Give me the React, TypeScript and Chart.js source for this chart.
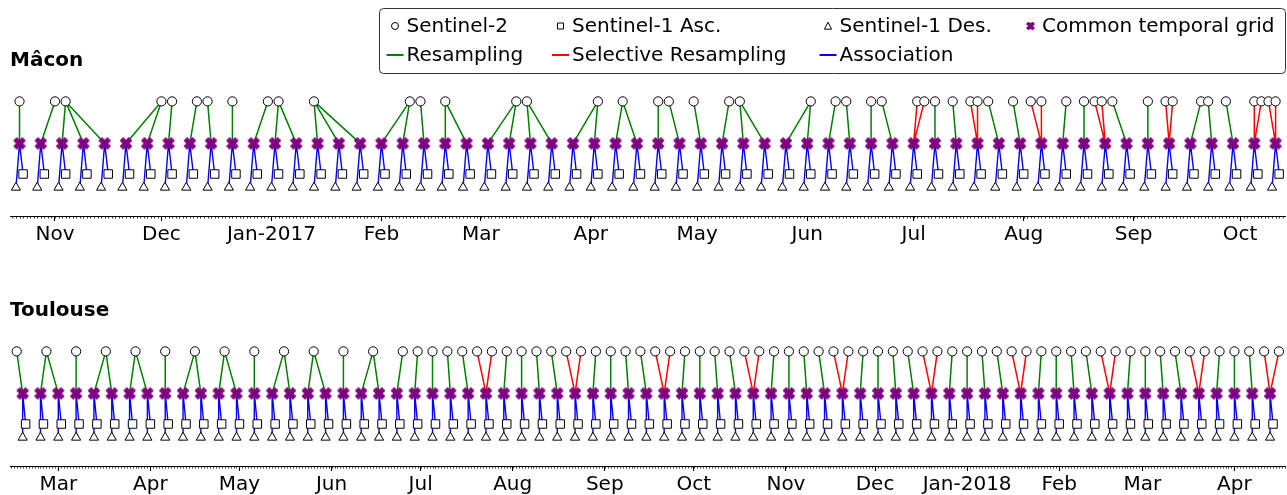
import React, { useEffect, useRef } from "react";
import { Chart, registerables } from "chart.js";
Chart.register(...registerables);

const FONT = '"DejaVu Sans", "Liberation Sans", sans-serif';

// ---------------- Mâcon ----------------
const maconS2Dates = `2016-10-22 2016-11-01 2016-11-04 2016-12-01 2016-12-04 2016-12-11 2016-12-14 2016-12-21 2016-12-31
2017-01-03 2017-01-13 2017-02-09 2017-02-12 2017-02-19 2017-03-11 2017-03-14 2017-04-03 2017-04-10 2017-04-20
2017-04-23 2017-04-30 2017-05-10 2017-05-13 2017-06-02 2017-06-09 2017-06-12 2017-06-19 2017-06-22 2017-07-02
2017-07-04 2017-07-07 2017-07-12 2017-07-17 2017-07-19 2017-07-22 2017-07-29 2017-08-03 2017-08-06 2017-08-13
2017-08-18 2017-08-21 2017-08-23 2017-08-26 2017-09-05 2017-09-10 2017-09-12 2017-09-20 2017-09-22 2017-09-27
2017-10-05 2017-10-07 2017-10-09 2017-10-11`.trim().split(/\s+/);

const maconGridDates = `2016-10-22 2016-10-28 2016-11-03 2016-11-09 2016-11-15 2016-11-21 2016-11-27 2016-12-03 2016-12-09
2016-12-15 2016-12-21 2016-12-27 2017-01-02 2017-01-08 2017-01-14 2017-01-20 2017-01-26 2017-02-01 2017-02-07
2017-02-13 2017-02-19 2017-02-25 2017-03-03 2017-03-09 2017-03-15 2017-03-21 2017-03-27 2017-04-02 2017-04-08
2017-04-14 2017-04-20 2017-04-26 2017-05-02 2017-05-08 2017-05-14 2017-05-20 2017-05-26 2017-06-01 2017-06-07
2017-06-13 2017-06-19 2017-06-25 2017-07-01 2017-07-07 2017-07-13 2017-07-19 2017-07-25 2017-07-31 2017-08-06
2017-08-12 2017-08-18 2017-08-24 2017-08-30 2017-09-05 2017-09-11 2017-09-17 2017-09-23 2017-09-29 2017-10-05
2017-10-11`.trim().split(/\s+/);

const maconAscDates = `2016-10-23 2016-10-29 2016-11-04 2016-11-10 2016-11-16 2016-11-22 2016-11-28 2016-12-04 2016-12-10
2016-12-16 2016-12-22 2016-12-28 2017-01-03 2017-01-09 2017-01-15 2017-01-21 2017-01-27 2017-02-02 2017-02-08
2017-02-14 2017-02-20 2017-02-26 2017-03-04 2017-03-10 2017-03-16 2017-03-22 2017-03-28 2017-04-03 2017-04-09
2017-04-15 2017-04-21 2017-04-27 2017-05-03 2017-05-09 2017-05-15 2017-05-21 2017-05-27 2017-06-02 2017-06-08
2017-06-14 2017-06-20 2017-06-26 2017-07-02 2017-07-08 2017-07-14 2017-07-20 2017-07-26 2017-08-01 2017-08-07
2017-08-13 2017-08-19 2017-08-25 2017-08-31 2017-09-06 2017-09-12 2017-09-18 2017-09-24 2017-09-30 2017-10-06
2017-10-12`.trim().split(/\s+/);

const maconDesDates = `2016-10-21 2016-10-27 2016-11-02 2016-11-08 2016-11-14 2016-11-20 2016-11-26 2016-12-02 2016-12-08
2016-12-14 2016-12-20 2016-12-26 2017-01-01 2017-01-07 2017-01-13 2017-01-19 2017-01-25 2017-01-31 2017-02-06
2017-02-12 2017-02-18 2017-02-24 2017-03-02 2017-03-08 2017-03-14 2017-03-20 2017-03-26 2017-04-01 2017-04-07
2017-04-13 2017-04-19 2017-04-25 2017-05-01 2017-05-07 2017-05-13 2017-05-19 2017-05-25 2017-05-31 2017-06-06
2017-06-12 2017-06-18 2017-06-24 2017-06-30 2017-07-06 2017-07-12 2017-07-18 2017-07-24 2017-07-30 2017-08-05
2017-08-11 2017-08-17 2017-08-23 2017-08-29 2017-09-04 2017-09-10 2017-09-16 2017-09-22 2017-09-28 2017-10-04
2017-10-10`.trim().split(/\s+/);

// S2 index (or pair of indices for selective resampling) linked to each grid date
const maconLinks: (number | number[])[] = [
  0, 1, 2, 2, 2, 3, 3, 4, 5, 6, 7, 8, 9, 9, 10, 10, 10, 11, 11, 12,
  13, 13, 14, 14, 15, 15, 16, 16, 17, 17, 18, 19, 20, 21, 22, 22, 23, 23, 24, 25,
  26, 27, [28, 29], 30, 31, [32, 33], 34, 35, [36, 37], 38, 39, [40, 41], 42, 43, [44, 45], 46, 47, 48, [49, 50], [51, 52],
];

const maconTicks = ["2016-11-01", "2016-12-01", "2017-01-01", "2017-02-01", "2017-03-01", "2017-04-01",
  "2017-05-01", "2017-06-01", "2017-07-01", "2017-08-01", "2017-09-01", "2017-10-01"];
const maconTickLabels = ["Nov", "Dec", "Jan-2017", "Feb", "Mar", "Apr", "May", "Jun", "Jul", "Aug", "Sep", "Oct"];
const maconRange = ["2016-10-19T07:40", "2017-10-13T19:00"];

// ---------------- Toulouse ----------------
const toulouseS2Dates = `2017-02-15 2017-02-25 2017-03-07 2017-03-17 2017-03-27 2017-04-06 2017-04-16 2017-04-26 2017-05-06
2017-05-16 2017-05-26 2017-06-05 2017-06-15 2017-06-25 2017-06-30 2017-07-05 2017-07-10 2017-07-15 2017-07-20
2017-07-25 2017-07-30 2017-08-04 2017-08-09 2017-08-14 2017-08-19 2017-08-24 2017-08-29 2017-09-03 2017-09-08
2017-09-13 2017-09-18 2017-09-23 2017-09-28 2017-10-03 2017-10-08 2017-10-13 2017-10-18 2017-10-23 2017-10-28
2017-11-02 2017-11-07 2017-11-12 2017-11-17 2017-11-22 2017-11-27 2017-12-02 2017-12-07 2017-12-12 2017-12-17
2017-12-22 2017-12-27 2018-01-01 2018-01-06 2018-01-11 2018-01-16 2018-01-21 2018-01-26 2018-01-31 2018-02-05
2018-02-10 2018-02-15 2018-02-20 2018-02-25 2018-03-02 2018-03-07 2018-03-12 2018-03-17 2018-03-22 2018-03-27
2018-04-01 2018-04-06 2018-04-11 2018-04-16`.trim().split(/\s+/);

const toulouseGridDates = `2017-02-17 2017-02-23 2017-03-01 2017-03-07 2017-03-13 2017-03-19 2017-03-25 2017-03-31 2017-04-06
2017-04-12 2017-04-18 2017-04-24 2017-04-30 2017-05-06 2017-05-12 2017-05-18 2017-05-24 2017-05-30 2017-06-05
2017-06-11 2017-06-17 2017-06-23 2017-06-29 2017-07-05 2017-07-11 2017-07-17 2017-07-23 2017-07-29 2017-08-04
2017-08-10 2017-08-16 2017-08-22 2017-08-28 2017-09-03 2017-09-09 2017-09-15 2017-09-21 2017-09-27 2017-10-03
2017-10-09 2017-10-15 2017-10-21 2017-10-27 2017-11-02 2017-11-08 2017-11-14 2017-11-20 2017-11-26 2017-12-02
2017-12-08 2017-12-14 2017-12-20 2017-12-26 2018-01-01 2018-01-07 2018-01-13 2018-01-19 2018-01-25 2018-01-31
2018-02-06 2018-02-12 2018-02-18 2018-02-24 2018-03-02 2018-03-08 2018-03-14 2018-03-20 2018-03-26 2018-04-01
2018-04-07 2018-04-13`.trim().split(/\s+/);

const toulouseAscDates = `2017-02-18 2017-02-24 2017-03-02 2017-03-08 2017-03-14 2017-03-20 2017-03-26 2017-04-01 2017-04-07
2017-04-13 2017-04-19 2017-04-25 2017-05-01 2017-05-07 2017-05-13 2017-05-19 2017-05-25 2017-05-31 2017-06-06
2017-06-12 2017-06-18 2017-06-24 2017-06-30 2017-07-06 2017-07-12 2017-07-18 2017-07-24 2017-07-30 2017-08-05
2017-08-11 2017-08-17 2017-08-23 2017-08-29 2017-09-04 2017-09-10 2017-09-16 2017-09-22 2017-09-28 2017-10-04
2017-10-10 2017-10-16 2017-10-22 2017-10-28 2017-11-03 2017-11-09 2017-11-15 2017-11-21 2017-11-27 2017-12-03
2017-12-09 2017-12-15 2017-12-21 2017-12-27 2018-01-02 2018-01-08 2018-01-14 2018-01-20 2018-01-26 2018-02-01
2018-02-07 2018-02-13 2018-02-19 2018-02-25 2018-03-03 2018-03-09 2018-03-15 2018-03-21 2018-03-27 2018-04-02
2018-04-08 2018-04-14`.trim().split(/\s+/);

const toulouseDesDates = `2017-02-17 2017-02-23 2017-03-01 2017-03-07 2017-03-13 2017-03-19 2017-03-25 2017-03-31 2017-04-06
2017-04-12 2017-04-18 2017-04-24 2017-04-30 2017-05-06 2017-05-12 2017-05-18 2017-05-24 2017-05-30 2017-06-05
2017-06-11 2017-06-17 2017-06-23 2017-06-29 2017-07-05 2017-07-11 2017-07-17 2017-07-23 2017-07-29 2017-08-04
2017-08-10 2017-08-16 2017-08-22 2017-08-28 2017-09-03 2017-09-09 2017-09-15 2017-09-21 2017-09-27 2017-10-03
2017-10-09 2017-10-15 2017-10-21 2017-10-27 2017-11-02 2017-11-08 2017-11-14 2017-11-20 2017-11-26 2017-12-02
2017-12-08 2017-12-14 2017-12-20 2017-12-26 2018-01-01 2018-01-07 2018-01-13 2018-01-19 2018-01-25 2018-01-31
2018-02-06 2018-02-12 2018-02-18 2018-02-24 2018-03-02 2018-03-08 2018-03-14 2018-03-20 2018-03-26 2018-04-01
2018-04-07 2018-04-13`.trim().split(/\s+/);

const toulouseLinks: (number | number[])[] = [
  0, 1, 1, 2, 3, 3, 4, 4, 5, 6, 6, 7, 7, 8, 9, 9, 10, 10, 11, 12, 12, 13,
  14, 15, 16, 17, [18, 19],
  20, 21, 22, 23, [24, 25],
  26, 27, 28, 29, [30, 31],
  32, 33, 34, 35, [36, 37],
  38, 39, 40, 41, [42, 43],
  44, 45, 46, 47, [48, 49],
  50, 51, 52, 53, [54, 55],
  56, 57, 58, 59, [60, 61],
  62, 63, 64, 65, [66, 67],
  68, 69, 70, [71, 72],
];

const toulouseTicks = ["2017-03-01", "2017-04-01", "2017-05-01", "2017-06-01", "2017-07-01", "2017-08-01",
  "2017-09-01", "2017-10-01", "2017-11-01", "2017-12-01", "2018-01-01", "2018-02-01", "2018-03-01", "2018-04-01"];
const toulouseTickLabels = ["Mar", "Apr", "May", "Jun", "Jul", "Aug", "Sep", "Oct", "Nov", "Dec", "Jan-2018", "Feb", "Mar", "Apr"];
const toulouseRange = ["2017-02-12T17:45", "2018-04-18T04:50"];

// ---------------- styling ----------------
const COLORS = { resampling: "#008000", selective: "#ff0000", association: "#0000ff", grid: "#800080" };
const LEVEL = { s2: 3.82, grid: 2.42, asc: 1.4, des: 0.95 };
const Y_MAX = 4.533;

const dayOf = (iso: string) => {
  const [date, time] = iso.split("T");
  const [y, m, d] = date.split("-").map(Number);
  let v = Date.UTC(y, m - 1, d) / 86400000;
  if (time) {
    const [hh, mm] = time.split(":").map(Number);
    v += (hh + (mm || 0) / 60) / 24;
  }
  return v;
};

function makeXMarker(size: number, lw: number) {
  const c = document.createElement("canvas");
  const dim = Math.ceil(size + lw * 2 + 2);
  c.width = dim;
  c.height = dim;
  const ctx = c.getContext("2d")!;
  const k = size / 4;
  const cx = dim / 2;
  const pts = [[-1, -2], [0, -1], [1, -2], [2, -1], [1, 0], [2, 1], [1, 2], [0, 1], [-1, 2], [-2, 1], [-1, 0], [-2, -1]];
  ctx.beginPath();
  pts.forEach(([a, b], i) => {
    const px = cx + a * k;
    const py = cx + b * k;
    if (i === 0) ctx.moveTo(px, py);
    else ctx.lineTo(px, py);
  });
  ctx.closePath();
  ctx.fillStyle = COLORS.grid;
  ctx.fill();
  ctx.lineWidth = lw;
  ctx.strokeStyle = COLORS.grid;
  ctx.lineJoin = "round";
  ctx.stroke();
  return c;
}

type PanelCfg = {
  title: string;
  s2: string[];
  grid: string[];
  asc: string[];
  des: string[];
  links: (number | number[])[];
  ticks: string[];
  tickLabels: string[];
  range: string[];
  top: number;
  legend: boolean;
};

const minorTicksPlugin = {
  id: "minorTicks",
  afterDraw(chart: any) {
    const xs = chart.scales.x;
    const ctx = chart.ctx;
    const y0 = Math.round(xs.top);
    ctx.save();
    ctx.strokeStyle = "#000";
    ctx.lineWidth = 0.8;
    for (let v = Math.ceil(xs.min); v <= xs.max; v++) {
      const px = Math.round(xs.getPixelForValue(v)) + 0.5;
      ctx.beginPath();
      ctx.moveTo(px, y0);
      ctx.lineTo(px, y0 + 2.5);
      ctx.stroke();
    }
    ctx.restore();
  },
};

const LEGEND_COLS = [386.5, 552, 819.5, 1022];
const LEGEND_ROWS = [26, 55];
const LEGEND_ITEMS = [
  { label: "Sentinel-2", kind: "circle", col: 0, row: 0 },
  { label: "Resampling", kind: "line", color: COLORS.resampling, col: 0, row: 1 },
  { label: "Sentinel-1 Asc.", kind: "square", col: 1, row: 0 },
  { label: "Selective Resampling", kind: "line", color: COLORS.selective, col: 1, row: 1 },
  { label: "Sentinel-1 Des.", kind: "triangle", col: 2, row: 0 },
  { label: "Association", kind: "line", color: COLORS.association, col: 2, row: 1 },
  { label: "Common temporal grid", kind: "x", col: 3, row: 0 },
];

function makeLegendPlugin(xImg: HTMLCanvasElement) {
  return {
    id: "customLegend",
    afterDraw(chart: any) {
      const ctx = chart.ctx;
      ctx.save();
      const x0 = 379.5, y0 = 8.5, w = 906, h = 65, r = 4;
      ctx.beginPath();
      ctx.moveTo(x0 + r, y0);
      ctx.lineTo(x0 + w - r, y0);
      ctx.arcTo(x0 + w, y0, x0 + w, y0 + r, r);
      ctx.lineTo(x0 + w, y0 + h - r);
      ctx.arcTo(x0 + w, y0 + h, x0 + w - r, y0 + h, r);
      ctx.lineTo(x0 + r, y0 + h);
      ctx.arcTo(x0, y0 + h, x0, y0 + h - r, r);
      ctx.lineTo(x0, y0 + r);
      ctx.arcTo(x0, y0, x0 + r, y0, r);
      ctx.closePath();
      ctx.fillStyle = "rgba(255,255,255,0.8)";
      ctx.fill();
      ctx.strokeStyle = "#333";
      ctx.lineWidth = 1;
      ctx.stroke();

      ctx.font = `20px ${FONT}`;
      ctx.textBaseline = "middle";
      ctx.textAlign = "left";
      for (const it of LEGEND_ITEMS) {
        const hx = LEGEND_COLS[it.col];
        const cy = LEGEND_ROWS[it.row];
        const mx = hx + 8.5;
        ctx.lineWidth = 1;
        ctx.strokeStyle = "#000";
        ctx.fillStyle = "#fff";
        if (it.kind === "line") {
          ctx.beginPath();
          ctx.moveTo(hx, cy);
          ctx.lineTo(hx + 17, cy);
          ctx.strokeStyle = (it as any).color;
          ctx.lineWidth = 2;
          ctx.stroke();
        } else if (it.kind === "circle") {
          ctx.beginPath();
          ctx.arc(mx, cy, 3.5, 0, Math.PI * 2);
          ctx.fill();
          ctx.stroke();
        } else if (it.kind === "square") {
          ctx.beginPath();
          ctx.rect(mx - 3, cy - 3, 6, 6);
          ctx.fill();
          ctx.stroke();
        } else if (it.kind === "triangle") {
          ctx.beginPath();
          ctx.moveTo(mx, cy - 3.8);
          ctx.lineTo(mx + 3.6, cy + 3.2);
          ctx.lineTo(mx - 3.6, cy + 3.2);
          ctx.closePath();
          ctx.fill();
          ctx.stroke();
        } else if (it.kind === "x") {
          ctx.drawImage(xImg, mx - xImg.width / 2, cy - xImg.height / 2);
        }
        ctx.fillStyle = "#000";
        ctx.fillText(it.label, hx + 20, cy + 1);
      }
      ctx.restore();
    },
  };
}

function buildDatasets(cfg: PanelCfg, xImg: HTMLCanvasElement) {
  const s2 = cfg.s2.map(dayOf);
  const grid = cfg.grid.map(dayOf);
  const asc = cfg.asc.map(dayOf);
  const des = cfg.des.map(dayOf);

  const green: any[] = [];
  const red: any[] = [];
  const blue: any[] = [];
  cfg.links.forEach((l, k) => {
    const arr = Array.isArray(l) ? l : [l];
    const target = arr.length > 1 ? red : green;
    arr.forEach((i) => {
      target.push({ x: grid[k], y: LEVEL.grid }, { x: s2[i], y: LEVEL.s2 }, { x: s2[i], y: null });
    });
  });
  grid.forEach((g, k) => {
    blue.push({ x: g, y: LEVEL.grid }, { x: asc[k], y: LEVEL.asc }, { x: asc[k], y: null });
    blue.push({ x: g, y: LEVEL.grid }, { x: des[k], y: LEVEL.des }, { x: des[k], y: null });
  });

  const lineDs = (data: any[], color: string, width: number) => ({
    data,
    showLine: true,
    spanGaps: false,
    borderColor: color,
    borderWidth: width,
    pointRadius: 0,
    pointHoverRadius: 0,
    order: 5,
  });

  return [
    lineDs(blue, COLORS.association, 1.4),
    lineDs(green, COLORS.resampling, 1.5),
    lineDs(red, COLORS.selective, 1.5),
    {
      data: s2.map((x) => ({ x, y: LEVEL.s2 })),
      pointStyle: "circle",
      pointRadius: 4.6,
      pointBorderWidth: 1,
      pointBackgroundColor: "#fff",
      pointBorderColor: "#000",
      order: 1,
    },
    {
      data: asc.map((x) => ({ x, y: LEVEL.asc })),
      pointStyle: "rect",
      pointRadius: 6,
      pointBorderWidth: 1,
      pointBackgroundColor: "#fff",
      pointBorderColor: "#000",
      order: 1,
    },
    {
      data: des.map((x) => ({ x, y: LEVEL.des })),
      pointStyle: "triangle",
      pointRadius: 5.3,
      pointBorderWidth: 1,
      pointBackgroundColor: "#fff",
      pointBorderColor: "#000",
      order: 1,
    },
    {
      data: grid.map((x) => ({ x, y: LEVEL.grid })),
      pointStyle: xImg,
      pointRadius: 6,
      order: 1,
    },
  ];
}

function Panel({ cfg }: { cfg: PanelCfg }) {
  const ref = useRef<HTMLCanvasElement>(null);
  useEffect(() => {
    const xImg = makeXMarker(11, 1.2);
    const xLegend = makeXMarker(8, 1);
    const tickVals = cfg.ticks.map(dayOf);
    const plugins: any[] = [minorTicksPlugin];
    if (cfg.legend) plugins.push(makeLegendPlugin(xLegend));
    const chart = new Chart(ref.current!, {
      type: "scatter",
      data: { datasets: buildDatasets(cfg, xImg) as any },
      options: {
        responsive: false,
        animation: false,
        events: [],
        layout: { autoPadding: false, padding: { left: 10, right: 1.5, top: 0, bottom: -4 } },
        scales: {
          x: {
            type: "linear",
            min: dayOf(cfg.range[0]),
            max: dayOf(cfg.range[1]),
            afterBuildTicks: (s: any) => {
              s.ticks = tickVals.map((v) => ({ value: v }));
            },
            ticks: {
              autoSkip: false,
              maxRotation: 0,
              minRotation: 0,
              padding: 4,
              color: "#000",
              font: { family: FONT, size: 20, lineHeight: 1 },
              callback: (_v: any, i: number) => cfg.tickLabels[i],
            },
            grid: {
              display: true,
              drawOnChartArea: false,
              drawTicks: true,
              tickLength: 5,
              tickWidth: 1.1,
              tickColor: "#000",
              color: "#000",
            },
            border: { display: true, color: "#000", width: 1 },
          },
          y: { type: "linear", display: false, min: 0, max: Y_MAX },
        },
        plugins: {
          legend: { display: false },
          tooltip: { enabled: false },
          title: {
            display: true,
            text: cfg.title,
            align: "start",
            color: "#000",
            font: { family: FONT, size: 20, weight: "bold", lineHeight: 1.2 },
            padding: { top: 49, bottom: 7 },
          },
        },
      } as any,
      plugins,
    });
    return () => chart.destroy();
  }, []);
  return (
    <canvas
      ref={ref}
      width={1287}
      height={245}
      style={{ position: "absolute", left: 0, top: cfg.top, width: 1287, height: 245 }}
    />
  );
}

const PANELS: PanelCfg[] = [
  {
    title: "Mâcon",
    s2: maconS2Dates,
    grid: maconGridDates,
    asc: maconAscDates,
    des: maconDesDates,
    links: maconLinks,
    ticks: maconTicks,
    tickLabels: maconTickLabels,
    range: maconRange,
    top: 0,
    legend: true,
  },
  {
    title: "Toulouse",
    s2: toulouseS2Dates,
    grid: toulouseGridDates,
    asc: toulouseAscDates,
    des: toulouseDesDates,
    links: toulouseLinks,
    ticks: toulouseTicks,
    tickLabels: toulouseTickLabels,
    range: toulouseRange,
    top: 250,
    legend: false,
  },
];

export default function App() {
  return (
    <div
      style={{
        position: "fixed",
        left: 0,
        top: 0,
        width: 1287,
        height: 495,
        background: "#fff",
        overflow: "hidden",
      }}
    >
      {PANELS.map((p) => (
        <Panel key={p.title} cfg={p} />
      ))}
    </div>
  );
}
